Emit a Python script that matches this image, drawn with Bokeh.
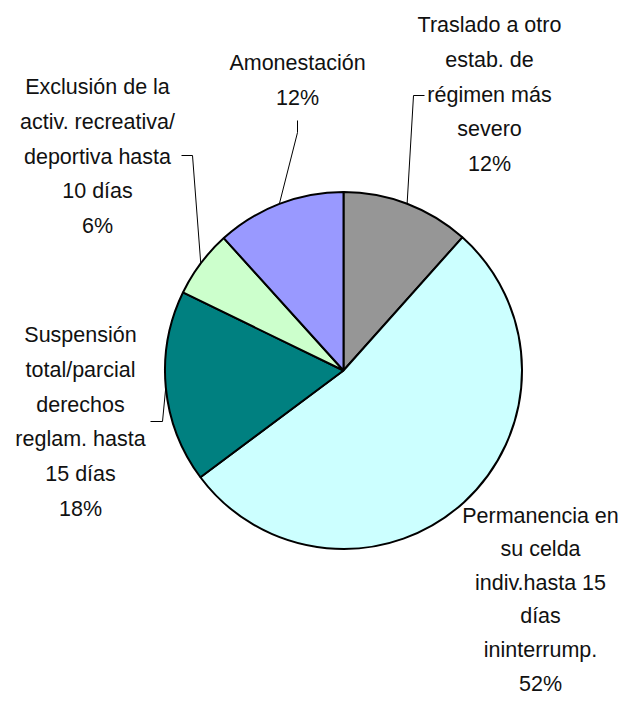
import math
from bokeh.plotting import figure
from bokeh.models import Range1d, ColumnDataSource
from bokeh.embed import file_html
from bokeh.resources import INLINE
from bokeh.core.properties import value

# ---- data (clockwise from 12 o'clock) ----
categories = [
    "Traslado a otro\nestab. de\nrégimen más\nsevero",
    "Permanencia en\nsu celda\nindiv.hasta 15\ndías\nininterrump.",
    "Suspensión\ntotal/parcial\nderechos\nreglam. hasta\n15 días",
    "Exclusión de la\nactiv. recreativa/\ndeportiva hasta\n10 días",
    "Amonestación",
]
values = [11.6, 53.2, 17.4, 6.1, 11.7]
pct_labels = ["12%", "52%", "18%", "6%", "12%"]
colors = ["#969696", "#CCFFFF", "#008080", "#CCFFCC", "#9999FF"]

# ---- layout (picture pixel coordinates) ----
W, H = 619, 695
CX, CY, R = 343, 370, 178.5
label_center = [(489, 94), (540, 599), (80, 421.5), (97, 156), (297, 80)]
line_steps = [34.7, 33.6, 34.7, 34.7, 34.7]
leader_start = [(424, 95), None, (150, 421), (181, 155), (297, 120)]
leader_bend = [(413, 95), None, (162, 421), (192, 155), (297, 132)]
FONT = "Liberation Sans Narrow, Arial Narrow, Liberation Sans, Arial, sans-serif"

p = figure(width=W, height=H, output_backend="svg", toolbar_location=None,
           x_range=Range1d(0, W), y_range=Range1d(-H, 0),
           x_axis_type=None, y_axis_type=None, min_border=0)
p.outline_line_color = None
p.background_fill_color = "white"
p.border_fill_color = "white"

total = float(sum(values))
starts, ends, mids = [], [], []
c = 0.0
for v in values:
    f0 = c / total
    c += v
    f1 = c / total
    starts.append(math.pi / 2 - 2 * math.pi * f0)
    ends.append(math.pi / 2 - 2 * math.pi * f1)
    mids.append(2 * math.pi * (f0 + f1) / 2)

# leader lines (drawn first so the pie outline covers their ends)
lx, ly = [], []
for i, m in enumerate(mids):
    if leader_start[i] is None:
        continue
    ex = CX + R * math.sin(m)
    ey = CY - R * math.cos(m)
    lx.append([leader_start[i][0], leader_bend[i][0], ex])
    ly.append([-leader_start[i][1], -leader_bend[i][1], -ey])
p.multi_line(xs=lx, ys=ly, line_color="black", line_width=1)

src = ColumnDataSource(dict(x=[CX] * len(values), y=[-CY] * len(values),
                            start=starts, end=ends, color=colors))
p.wedge(x="x", y="y", radius=R, start_angle="start", end_angle="end",
        direction="clock", fill_color="color", line_color="black",
        line_width=2, source=src)

tx, ty, tt = [], [], []
for i, cat in enumerate(categories):
    lines = cat.split("\n") + [pct_labels[i]]
    n = len(lines)
    cxl, cyl = label_center[i]
    for j, s in enumerate(lines):
        tx.append(cxl)
        ty.append(-(cyl + (j - (n - 1) / 2) * line_steps[i]))
        tt.append(s)
p.text(x=tx, y=ty, text=tt, text_font=value(FONT), text_font_size="21.5px",
       text_align="center", text_baseline="middle", text_color="#111111")

open("out.html", "w").write(file_html(p, INLINE))
